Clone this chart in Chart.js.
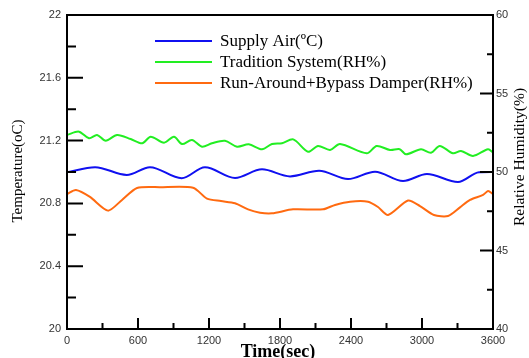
<!DOCTYPE html>
<html lang="en">
<head>
    <meta charset="UTF-8">
    <title>Supply Air Temperature and Humidity</title>
    <script src="https://cdn.jsdelivr.net/npm/chart.js@4.4.0/dist/chart.umd.min.js"></script>
    <style>
        body {
            margin: 0;
            padding: 0;
            background-color: #ffffff;
        }
        #chart {
            display: block;
        }
    </style>
</head>
<body>
    <canvas id="chart" width="529" height="358"></canvas>
    <script>
        // supply air temperature (deg C), left axis
        var supplyTime = [0, 237, 505, 701, 969, 1166, 1420, 1648, 1885, 2130, 2375, 2603, 2840, 3042, 3304, 3482, 3600];
        var supplyAir = [20.998, 21.031, 20.981, 21.031, 20.960, 21.030, 20.962, 21.017, 20.972, 21.008, 20.955, 21.002, 20.943, 20.987, 20.936, 20.998, 21.0];

        // tradition system humidity (RH%), right axis
        var traditionTime = [0, 101, 186, 254, 327, 423, 538, 636, 707, 820, 904, 972, 1056, 1141, 1225, 1335, 1437, 1536, 1648, 1732, 1817, 1912, 2037, 2121, 2223, 2307, 2533, 2617, 2730, 2812, 2865, 2992, 3076, 3150, 3262, 3330, 3431, 3558, 3600];
        var traditionRH = [52.36, 52.57, 52.15, 52.36, 51.99, 52.36, 52.10, 51.83, 52.25, 51.87, 52.25, 51.78, 52.04, 51.61, 51.83, 51.99, 51.61, 51.76, 51.45, 51.78, 51.83, 52.08, 51.29, 51.66, 51.40, 51.78, 51.19, 51.66, 51.40, 51.45, 51.13, 51.45, 51.23, 51.66, 51.19, 51.34, 51.02, 51.45, 51.25];

        // run-around + bypass damper humidity (RH%), right axis
        var runAroundTime = [0, 76, 194, 346, 465, 592, 786, 1065, 1183, 1301, 1420, 1530, 1631, 1732, 1910, 2163, 2265, 2392, 2544, 2628, 2713, 2882, 2983, 3101, 3220, 3321, 3406, 3516, 3558, 3600];
        var runAroundRH = [48.60, 48.85, 48.41, 47.54, 48.22, 48.98, 49.03, 49.00, 48.31, 48.15, 48.01, 47.62, 47.41, 47.37, 47.62, 47.62, 47.90, 48.11, 48.11, 47.77, 47.26, 48.18, 47.83, 47.26, 47.20, 47.75, 48.22, 48.54, 48.79, 48.60];

        var seriesNames = ['Supply Air(\u00BAC)', 'Tradition System(RH%)', 'Run-Around+Bypass Damper(RH%)'];
        var seriesColors = ['#1010f0', '#22ee22', '#ff6a10'];

        function toPoints(xs, ys) {
            return xs.map(function(x, i) { return { x: x, y: ys[i] }; });
        }

        // inward tick marks, frame, axis titles and legend
        var frame = {
            id: 'frame',
            afterDraw: function(chart) {
                var ctx = chart.ctx;
                var a = chart.chartArea;
                var sx = chart.scales.x, sy = chart.scales.y, sr = chart.scales.y1;
                ctx.save();
                ctx.strokeStyle = '#000';
                ctx.lineWidth = 2;
                ctx.strokeRect(a.left, a.top, a.right - a.left, a.bottom - a.top);

                ctx.beginPath();
                for (var i = 0; i <= 10; i++) {
                    var py = sy.getPixelForValue(20 + i * 0.2);
                    ctx.moveTo(a.left, py);
                    ctx.lineTo(a.left + (i % 2 === 0 ? 16 : 9), py);
                }
                for (var j = 0; j <= 8; j++) {
                    var pr = sr.getPixelForValue(40 + j * 2.5);
                    ctx.moveTo(a.right, pr);
                    ctx.lineTo(a.right - (j % 2 === 0 ? 13 : 6), pr);
                }
                for (var k = 0; k <= 12; k++) {
                    var px = sx.getPixelForValue(k * 300);
                    ctx.moveTo(px, a.bottom);
                    ctx.lineTo(px, a.bottom - (k % 2 === 0 ? 11 : 6));
                }
                ctx.stroke();

                ctx.fillStyle = '#000';
                ctx.font = '15px "Liberation Serif", serif';
                ctx.textAlign = 'center';
                ctx.textBaseline = 'middle';
                ctx.save();
                ctx.translate(18, 171);
                ctx.rotate(-Math.PI / 2);
                ctx.fillText('Temperature(oC)', 0, 0);
                ctx.restore();
                ctx.save();
                ctx.translate(520, 157);
                ctx.rotate(-Math.PI / 2);
                ctx.font = '15.5px "Liberation Serif", serif';
                ctx.fillText('Relative Humidity(%)', 0, 0);
                ctx.restore();
                ctx.font = 'bold 18px "Liberation Serif", serif';
                ctx.textBaseline = 'alphabetic';
                ctx.fillText('Time(sec)', 278, 357);

                // legend
                ctx.font = '17px "Liberation Serif", serif';
                ctx.textAlign = 'left';
                ctx.textBaseline = 'middle';
                var ly = [41, 62, 83];
                chart.data.datasets.forEach(function(ds, n) {
                    ctx.strokeStyle = ds.borderColor;
                    ctx.lineWidth = 2;
                    ctx.beginPath();
                    ctx.moveTo(155, ly[n]);
                    ctx.lineTo(212, ly[n]);
                    ctx.stroke();
                    ctx.fillText(ds.label, 220, ly[n] + 1);
                });
                ctx.restore();
            }
        };

        var tickFont = { family: '"Liberation Sans", Arial, sans-serif', size: 11 };
        var plainLabel = function(v) { return String(Math.round(v * 10) / 10); };

        new Chart(document.getElementById('chart'), {
            type: 'line',
            data: {
                datasets: [{
                    label: seriesNames[0],
                    data: toPoints(supplyTime, supplyAir),
                    yAxisID: 'y',
                    borderColor: seriesColors[0],
                    borderWidth: 2,
                    pointRadius: 0,
                    cubicInterpolationMode: 'monotone'
                }, {
                    label: seriesNames[1],
                    data: toPoints(traditionTime, traditionRH),
                    yAxisID: 'y1',
                    borderColor: seriesColors[1],
                    borderWidth: 2,
                    pointRadius: 0,
                    tension: 0.3
                }, {
                    label: seriesNames[2],
                    data: toPoints(runAroundTime, runAroundRH),
                    yAxisID: 'y1',
                    borderColor: seriesColors[2],
                    borderWidth: 2,
                    pointRadius: 0,
                    tension: 0.25
                }]
            },
            options: {
                responsive: false,
                animation: false,
                devicePixelRatio: 1,
                layout: { padding: { top: 15, left: 0, right: 0, bottom: 0 } },
                plugins: {
                    legend: { display: false },
                    tooltip: { enabled: false }
                },
                scales: {
                    x: {
                        type: 'linear',
                        min: 0,
                        max: 3600,
                        grid: { display: false, drawTicks: false },
                        border: { display: false },
                        ticks: { stepSize: 600, padding: 5, color: '#333', font: tickFont, maxRotation: 0, callback: plainLabel },
                        afterFit: function(s) { s.height = 29; }
                    },
                    y: {
                        position: 'left',
                        min: 20,
                        max: 22,
                        grid: { display: false, drawTicks: false },
                        border: { display: false },
                        ticks: { stepSize: 0.4, padding: 6, color: '#333', font: tickFont, callback: plainLabel },
                        afterFit: function(s) { s.width = 67; }
                    },
                    y1: {
                        position: 'right',
                        min: 40,
                        max: 60,
                        grid: { display: false, drawTicks: false },
                        border: { display: false },
                        ticks: { stepSize: 5, padding: 3, color: '#333', font: tickFont, callback: plainLabel },
                        afterFit: function(s) { s.width = 36; }
                    }
                }
            },
            plugins: [frame]
        });
    </script>
</body>
</html>
